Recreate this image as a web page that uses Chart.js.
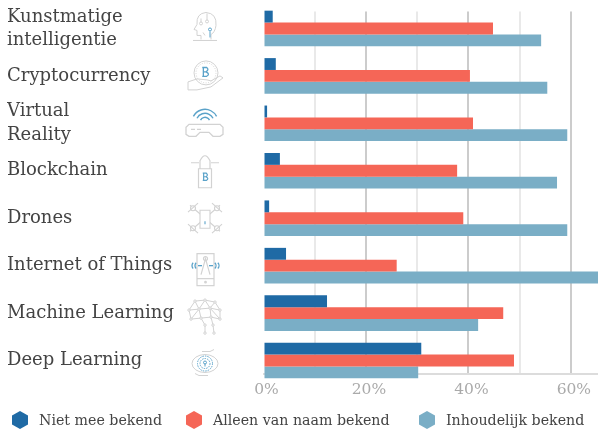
<!DOCTYPE html>
<html>
<head>
<meta charset="utf-8">
<script src="https://cdn.jsdelivr.net/npm/chart.js@4"></script>
<style>
  html, body { margin: 0; padding: 0; background: #fff; overflow: hidden; }
  #wrap { position: relative; width: 598px; height: 434px; }
  .key { position: absolute; top: 410px; height: 20px; line-height: 20px; white-space: nowrap; color: #444; font: 14.2px/20px 'DejaVu Serif', serif; }
  .key i { position: absolute; left: -27px; top: 1px; width: 16px; height: 18px; clip-path: polygon(50% 0, 100% 25%, 100% 75%, 50% 100%, 0 75%, 0 25%); }
</style>
</head>
<body>
<div id="wrap"><canvas id="chart" width="598" height="434"></canvas></div>
<script>
const categories = [
  ["Kunstmatige", "intelligentie"],
  "Cryptocurrency",
  ["Virtual", "Reality"],
  "Blockchain",
  "Drones",
  "Internet of Things",
  "Machine Learning",
  "Deep Learning"
];
const nietBekend = [1.8, 2.4, 0.7, 3.2, 1.1, 4.4, 12.4, 30.8];
const naamBekend = [44.8, 40.3, 40.9, 37.8, 39, 26, 46.8, 48.9];
const inhoudBekend = [54.2, 55.4, 59.3, 57.3, 59.3, 66, 41.9, 30.2];
const seriesNames = ["Niet mee bekend", "Alleen van naam bekend", "Inhoudelijk bekend"];
const xTicks = [0, 10, 20, 30, 40, 50, 60];
const xTickLabels = ["0%", "", "20%", "", "40%", "", "60%"];

const BLUE = "#1f6aa5", RED = "#f56657", TEAL = "#7aaec6";
const FONT = "'DejaVu Serif', serif";
const GREY = "#d2d2d2", ICON_BLUE = "#5aa2c9";

function toRow(values) {
  return values.map((v, i) => ({ x: v, y: i }));
}

function poly(g, pts) {
  g.beginPath();
  pts.forEach((p, i) => i ? g.lineTo(p[0], p[1]) : g.moveTo(p[0], p[1]));
  g.stroke();
}
function ring(g, x, y, r, fill) {
  g.beginPath();
  g.arc(x, y, r, 0, Math.PI * 2);
  if (fill) g.fill();
  g.stroke();
}
function bitcoin(g, x, y, s) {
  g.beginPath();
  g.moveTo(x - 2.5 * s, y - 4 * s);
  g.lineTo(x + 1.5 * s, y - 4 * s);
  g.quadraticCurveTo(x + 4 * s, y - 2 * s, x + 1 * s, y);
  g.quadraticCurveTo(x + 5 * s, y + 2 * s, x + 1.5 * s, y + 4 * s);
  g.lineTo(x - 2.5 * s, y + 4 * s);
  g.moveTo(x - 1.5 * s, y - 4 * s);
  g.lineTo(x - 1.5 * s, y + 4 * s);
  g.moveTo(x - 1.5 * s, y);
  g.lineTo(x + 1, y);
  g.stroke();
}

// small line icons next to the labels, one per row
const icons = [
  function head(g) {
    g.beginPath();
    g.moveTo(-4, 11); g.lineTo(-4, 7); g.lineTo(-8, 7); g.lineTo(-8, 2); g.lineTo(-11, 1); g.lineTo(-8, -4);
    g.quadraticCurveTo(-9, -15, 1, -16);
    g.quadraticCurveTo(12, -15, 11, -3);
    g.quadraticCurveTo(10, 4, 6, 6);
    g.lineTo(6, 11);
    g.moveTo(-12, 12); g.lineTo(12, 12);
    g.moveTo(-4, -6); g.lineTo(-4, -10);
    g.moveTo(2, -8); g.lineTo(2, -15);
    g.moveTo(0, 7); g.lineTo(-2, 4);
    g.stroke();
    ring(g, -4, -5, 1.5);
    ring(g, 2, -7, 1.5);
    g.strokeStyle = ICON_BLUE;
    ring(g, 5, 1, 1.5);
    poly(g, [[5, 3], [5, 9]]);
  },
  function coin(g) {
    ring(g, 1, -3, 12);
    g.setLineDash([1, 1.5]);
    ring(g, 1, -3, 10);
    g.setLineDash([]);
    poly(g, [[-17, 6], [-8, 3], [2, 4], [6, 5], [15, 0], [18, 2], [6, 11], [-8, 14], [-17, 14], [-17, 6]]);
    g.strokeStyle = ICON_BLUE;
    g.lineWidth = 1.3;
    bitcoin(g, 0, -4, 1.1);
  },
  function goggles(g) {
    g.lineWidth = 1.3;
    g.beginPath();
    g.moveTo(-16, 1); g.lineTo(15, 1); g.lineTo(18, 4); g.lineTo(18, 11); g.lineTo(15, 13); g.lineTo(8, 13); g.lineTo(4, 9); g.lineTo(-5, 9); g.lineTo(-9, 13);
    g.lineTo(-16, 13); g.lineTo(-19, 11); g.lineTo(-19, 4); g.closePath();
    g.moveTo(-14, 6); g.lineTo(-10, 6);
    g.moveTo(-8, 6); g.lineTo(-4, 6);
    g.stroke();
    g.strokeStyle = ICON_BLUE;
    g.lineWidth = 1.4;
    [5, 9, 13].forEach(r => {
      g.beginPath();
      g.arc(0, -1, r, Math.PI * 1.15, Math.PI * 1.85);
      g.stroke();
    });
  },
  function lock(g) {
    g.lineWidth = 1.2;
    g.beginPath();
    g.moveTo(-5, -2); g.lineTo(-5, -10);
    g.quadraticCurveTo(0, -20, 5, -10);
    g.lineTo(5, -2);
    g.moveTo(-14, -8); g.lineTo(-6, -8);
    g.moveTo(6, -8); g.lineTo(14, -8);
    g.rect(-6.5, -2, 13, 19);
    g.stroke();
    g.strokeStyle = ICON_BLUE;
    bitcoin(g, 0, 6, 0.9);
  },
  function drone(g) {
    g.lineWidth = 1.1;
    poly(g, [[-15, -13], [0, 0], [15, -13]]);
    poly(g, [[-15, 13], [0, 0], [15, 13]]);
    g.fillStyle = "#fff";
    g.beginPath();
    g.rect(-5, -8, 10, 18);
    g.fill();
    g.stroke();
    [[-12, -10], [12, -10], [-12, 10], [12, 10]].forEach(p => ring(g, p[0], p[1], 2.5, true));
    poly(g, [[-17, -6], [-7, -15]]);
    poly(g, [[17, -6], [7, -15]]);
    poly(g, [[-17, 6], [-7, 15]]);
    poly(g, [[17, 6], [7, 15]]);
    g.strokeStyle = ICON_BLUE;
    poly(g, [[0, 3], [0, 6]]);
  },
  function phone(g) {
    g.lineWidth = 1.2;
    g.strokeRect(-8, -12, 17, 32);
    poly(g, [[-8, 13], [9, 13]]);
    poly(g, [[-4, 9], [0.5, -7], [5, 9]]);
    ring(g, 0.5, -7, 2);
    ring(g, 0.5, 16.5, 0.8);
    g.strokeStyle = ICON_BLUE;
    g.lineWidth = 1.3;
    poly(g, [[-7, 0], [-3, 0]]);
    poly(g, [[4, 0], [8, 0]]);
    [-10, -13].forEach(x => {
      g.beginPath(); g.arc(x + 4, 0, 4, Math.PI * 0.75, Math.PI * 1.25); g.stroke();
    });
    [11, 14].forEach(x => {
      g.beginPath(); g.arc(x - 4, 0, 4, -Math.PI * 0.25, Math.PI * 0.25); g.stroke();
    });
  },
  function brain(g) {
    const nodes = [[-10, -12], [0, -13], [10, -11], [-16, -3], [-6, -4], [5, -5], [15, -3], [-14, 6], [-4, 5], [6, 4], [15, 6], [0, 12], [8, 12], [0, 20], [9, 20]];
    const links = [[0, 1], [1, 2], [0, 3], [0, 4], [1, 4], [1, 5], [2, 5], [2, 6], [3, 4], [4, 5], [5, 6], [3, 7], [4, 7], [4, 8], [5, 9], [6, 10], [5, 10], [7, 8], [8, 9], [9, 10], [8, 11], [9, 12], [11, 13], [12, 14]];
    links.forEach(l => poly(g, [nodes[l[0]], nodes[l[1]]]));
    nodes.forEach(n => ring(g, n[0], n[1], 1.2, true));
  },
  function eye(g) {
    g.beginPath();
    g.ellipse(0, 3, 13, 9, 0, 0, Math.PI * 2);
    g.stroke();
    poly(g, [[-3, -9], [5, -9], [9, -11]]);
    poly(g, [[3, 15], [-6, 15], [-10, 13]]);
    g.strokeStyle = ICON_BLUE;
    g.setLineDash([1.5, 1]);
    ring(g, 0, 3, 7.5);
    ring(g, 0, 3, 5);
    g.setLineDash([]);
    ring(g, 0, 2, 1.5);
    poly(g, [[0, 3], [0, 6]]);
  }
];

const iconPlugin = {
  id: "rowIcons",
  afterDatasetsDraw(chart) {
    const g = chart.ctx;
    const y = chart.scales.y;
    icons.forEach((draw, i) => {
      g.save();
      g.translate(205, y.getPixelForValue(i));
      g.strokeStyle = GREY;
      g.fillStyle = "#fff";
      g.lineWidth = 1;
      draw(g);
      g.restore();
    });
  }
};

const chart = new Chart(document.getElementById("chart"), {
  type: "bar",
  plugins: [iconPlugin],
  data: {
    datasets: [
      { label: seriesNames[0], data: toRow(nietBekend), backgroundColor: BLUE },
      { label: seriesNames[1], data: toRow(naamBekend), backgroundColor: RED },
      { label: seriesNames[2], data: toRow(inhoudBekend), backgroundColor: TEAL }
    ]
  },
  options: {
    indexAxis: "y",
    responsive: false,
    animation: false,
    clip: false,
    layout: { padding: { left: 7, right: 0, top: 10, bottom: 37 } },
    datasets: { bar: { categoryPercentage: 0.75, barPercentage: 1 } },
    scales: {
      x: {
        type: "linear",
        min: 0,
        max: 65.3,
        afterBuildTicks: scale => { scale.ticks = xTicks.map(v => ({ value: v })); },
        afterFit: scale => { scale.height = 23; },
        border: { display: true, color: "#dcdcdc", width: 2 },
        grid: {
          drawTicks: false,
          color: ctx => ctx.tick && ctx.tick.value === 0 ? "rgba(0,0,0,0)" : (ctx.tick && ctx.tick.value % 20 === 0 ? "#cccccc" : "#e9e9e9"),
          lineWidth: 2
        },
        ticks: {
          autoSkip: false,
          maxRotation: 0,
          padding: 7,
          labelOffset: 3,
          color: "#aaaaaa",
          font: { family: FONT, size: 15.5 },
          callback: (value, index) => xTickLabels[index]
        }
      },
      y: {
        type: "linear",
        reverse: true,
        offset: false,
        min: -0.357,
        max: 7.284,
        afterBuildTicks: scale => { scale.ticks = categories.map((c, i) => ({ value: i })); },
        afterFit: scale => { scale.width = 256.5; },
        border: { display: false },
        grid: { display: false, drawTicks: false },
        ticks: {
          autoSkip: false,
          crossAlign: "far",
          padding: 0,
          color: "#444444",
          font: { family: FONT, size: 18, lineHeight: 1.28 },
          callback: (value, index) => categories[index]
        }
      }
    },
    plugins: {
      tooltip: { enabled: false },
      legend: { display: false }
    }
  }
});

// html legend, the native one wraps at this gap
const keyLefts = [39, 213, 446];
chart.data.datasets.forEach((ds, i) => {
  const key = document.createElement("div");
  key.className = "key";
  key.style.left = keyLefts[i] + "px";
  const mark = document.createElement("i");
  mark.style.background = ds.backgroundColor;
  key.appendChild(mark);
  key.appendChild(document.createTextNode(ds.label));
  document.getElementById("wrap").appendChild(key);
});
</script>
</body>
</html>
